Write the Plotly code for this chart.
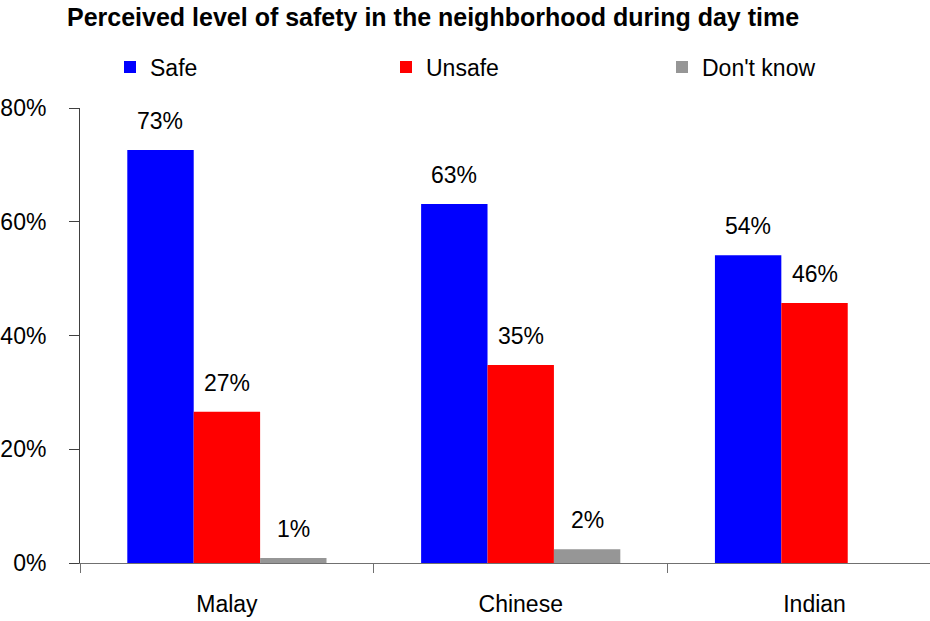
import plotly.graph_objects as go

# data (percent)
groups = ["Malay", "Chinese", "Indian"]
safe = [72.6, 63.1, 54.1]
unsafe = [26.6, 34.8, 45.7]
dont_know = [0.9, 2.4, None]

series_names = ["Safe", "Unsafe", "Don't know"]
series_colors = ["#0000FF", "#FF0000", "#969696"]

y_ticks = [0, 20, 40, 60, 80]
y_tick_labels = ["0%", "20%", "40%", "60%", "80%"]

FONT = "Liberation Sans, Arial, sans-serif"
FS = 23
W, H = 930, 621
ML, MR, MT, MB = 77, 0, 108, 58
BARGAP = 0.322
X_RANGE = [-0.5, 2.393]

fig = go.Figure()
all_series = [safe, unsafe, dont_know]
for name, vals, col in zip(series_names, all_series, series_colors):
    fig.add_trace(go.Bar(x=groups, y=vals, name=name, marker_color=col,
                         marker_line_width=0))

# value labels sit a little above each bar, like the original
cat_px = (W - ML - MR) / (X_RANGE[1] - X_RANGE[0])
bar_px = cat_px * (1 - BARGAP) / 3
for j, vals in enumerate(all_series):
    for g, v in zip(groups, vals):
        if v is None:
            continue
        fig.add_annotation(x=g, y=v, text=f"{v:.0f}%", showarrow=False,
                           xref="x", yref="y", xshift=(j - 1) * bar_px,
                           yshift=29, yanchor="middle",
                           font=dict(size=FS, color="black", family=FONT))

fig.update_layout(
    width=W, height=H,
    margin=dict(l=ML, r=MR, t=MT, b=MB),
    paper_bgcolor="white", plot_bgcolor="white",
    barmode="group", bargap=BARGAP, bargroupgap=0,
    font=dict(family=FONT, size=FS, color="black"),
    title=dict(text="<b>Perceived level of safety in the neighborhood during day time</b>",
               x=67 / W, xanchor="left", xref="container",
               y=1 - 17 / H, yanchor="middle", yref="container",
               font=dict(size=25, family=FONT, color="black")),
    legend=dict(orientation="h", x=110 / W, xanchor="left", xref="container",
                y=1 - 67 / H, yanchor="middle", yref="container",
                entrywidth=231, entrywidthmode="pixels",
                font=dict(size=FS, family=FONT, color="black"),
                bgcolor="rgba(0,0,0,0)"),
)
fig.update_xaxes(range=X_RANGE, showline=True, linecolor="#707070", linewidth=1,
                 ticks="outside", tickson="boundaries", ticklen=9,
                 tickcolor="#707070", showgrid=False, ticklabelstandoff=20)
fig.update_yaxes(range=[0, 80], tickvals=y_ticks, ticktext=y_tick_labels,
                 showline=True, linecolor="#404040", linewidth=1,
                 ticks="outside", ticklen=10, tickcolor="#404040",
                 showgrid=False, zeroline=False, ticklabelstandoff=18)

# the page body has a default 8px margin; drop it so the chart sits at 0,0
fig.write_html("out.html", config={"displayModeBar": False},
               post_script="document.body.style.margin='0';")
